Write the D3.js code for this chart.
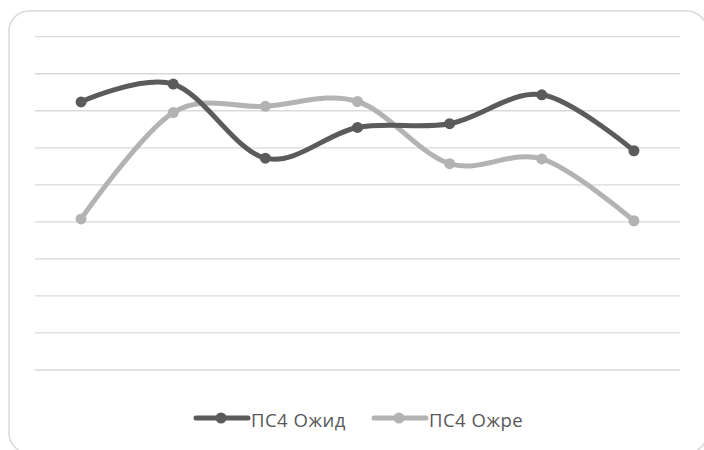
<!DOCTYPE html>
<html>
<head>
<meta charset="utf-8">
<script src="https://cdn.jsdelivr.net/npm/d3@7"></script>
<style>
html,body{margin:0;padding:0;background:#fff;}
svg{display:block;}
</style>
</head>
<body>
<svg id="chart" width="704" height="450"></svg>
<script>
const categories = ["1", "2", "3", "4", "5", "6", "7"];
const seriesNames = ["ПС4 Ожид", "ПС4 Ожре"];
const ozhid = [7.24, 7.72, 5.72, 6.55, 6.65, 7.43, 5.92];
const ozhre = [4.08, 6.95, 7.12, 7.25, 5.57, 5.70, 4.03];
const yTicks = [0, 1, 2, 3, 4, 5, 6, 7, 8, 9];
const colors = ["#5b5b5b", "#b3b3b3"];

const svg = d3.select("#chart");

// outer rounded frame
svg.append("rect")
  .attr("x", 9).attr("y", 11)
  .attr("width", 698).attr("height", 442)
  .attr("rx", 20).attr("ry", 20)
  .attr("fill", "#fff")
  .attr("stroke", "#d9d9d9")
  .attr("stroke-width", 1.5);

const x = d3.scaleBand().domain(categories).range([35, 680]);
const y = d3.scaleLinear().domain([0, 9]).range([370, 36.7]);

// gridlines
svg.append("g")
  .selectAll("line")
  .data(yTicks)
  .join("line")
  .attr("x1", 35).attr("x2", 680)
  .attr("y1", d => y(d)).attr("y2", d => y(d))
  .attr("stroke", "#d9d9d9")
  .attr("stroke-width", 1.3);

const series = [ozhid, ozhre];
const line = d3.line()
  .x((d, i) => x(categories[i]) + x.bandwidth() / 2)
  .y(d => y(d))
  .curve(d3.curveCardinal.tension(0));

[1, 0].forEach(si => {
  const g = svg.append("g");
  g.append("path")
    .datum(series[si])
    .attr("d", line)
    .attr("fill", "none")
    .attr("stroke", colors[si])
    .attr("stroke-width", 5)
    .attr("stroke-linecap", "round")
    .attr("stroke-linejoin", "round");
  g.selectAll("circle")
    .data(series[si])
    .join("circle")
    .attr("cx", (d, i) => x(categories[i]) + x.bandwidth() / 2)
    .attr("cy", d => y(d))
    .attr("r", 5.5)
    .attr("fill", colors[si]);
});

// legend
const legendItems = [
  {name: seriesNames[0], color: colors[0], x0: 196},
  {name: seriesNames[1], color: colors[1], x0: 374}
];
const lg = svg.append("g");
legendItems.forEach(it => {
  const ly = 418;
  lg.append("line")
    .attr("x1", it.x0).attr("x2", it.x0 + 52)
    .attr("y1", ly).attr("y2", ly)
    .attr("stroke", it.color).attr("stroke-width", 5)
    .attr("stroke-linecap", "round");
  lg.append("circle")
    .attr("cx", it.x0 + 25).attr("cy", ly).attr("r", 5.5)
    .attr("fill", it.color);
  lg.append("text")
    .attr("x", it.x0 + 55).attr("y", 426.5)
    .attr("font-family", "'Open Sans', sans-serif")
    .attr("font-size", 18.5)
    .attr("letter-spacing", 0.5)
    .attr("fill", "#595959")
    .text(it.name);
});
</script>
</body>
</html>
